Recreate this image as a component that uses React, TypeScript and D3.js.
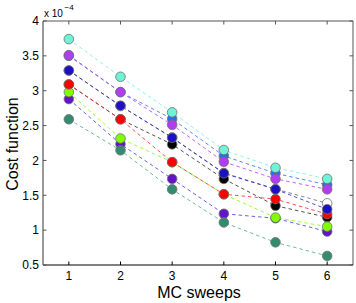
import React from 'react';
import * as d3 from 'd3';

const sweeps = [1, 2, 3, 4, 5, 6];
const yTicks = [0.5, 1, 1.5, 2, 2.5, 3, 3.5, 4];

// values in units of 1e-4, drawn bottom to top
const whiteSeries = [3.29, 2.78, 2.33, 1.82, 1.59, 1.385];
const blackSeries = [3.09, 2.59, 2.23, 1.735, 1.35, 1.185];
const blueSeries = [3.5, 2.98, 2.595, 2.065, 1.815, 1.65];
const indigoSeries = [2.88, 2.235, 1.735, 1.235, 1.17, 0.98];
const tealSeries = [2.59, 2.145, 1.585, 1.11, 0.825, 0.63];
const greenSeries = [2.98, 2.315, 1.975, 1.515, 1.18, 1.05];
const redSeries = [3.09, 2.59, 1.975, 1.515, 1.445, 1.23];
const darkBlueSeries = [3.29, 2.785, 2.325, 1.815, 1.585, 1.3];
const violetSeries = [3.51, 2.98, 2.51, 1.98, 1.735, 1.585];
const turquoiseSeries = [3.74, 3.2, 2.69, 2.15, 1.895, 1.735];

const series = [
  { values: whiteSeries, fill: '#ffffff', line: '#666666' },
  { values: blackSeries, fill: '#000000', line: '#222222' },
  { values: blueSeries, fill: '#2e6bf0', line: '#2e6bf0' },
  { values: indigoSeries, fill: '#6414c8', line: '#3a3ae0' },
  { values: tealSeries, fill: '#338c70', line: '#4aa88a' },
  { values: greenSeries, fill: '#7fff00', line: '#7fff00' },
  { values: redSeries, fill: '#ff0000', line: '#ff2020' },
  { values: darkBlueSeries, fill: '#1c0fc4', line: '#2020c0' },
  { values: violetSeries, fill: '#b23cf0', line: '#b23cf0' },
  { values: turquoiseSeries, fill: '#6ff2d6', line: '#6ff2d6' },
];

const W = 356;
const H = 303;
const m = { left: 43, right: 353, top: 21, bottom: 265 };
const font = '"Liberation Sans", Arial, Helvetica, sans-serif';

export default function App() {
  const x = d3.scaleLinear().domain([0.5, 6.5]).range([m.left, m.right]);
  const y = d3.scaleLinear().domain([0.5, 4]).range([m.bottom, m.top]);
  const line = d3.line<number>()
    .x((_, i) => x(sweeps[i]))
    .y(d => y(d));
  const tl = 3.5;

  return (
    <div style={{ position: 'fixed', left: 0, top: 0 }}>
      <svg width={W} height={H} style={{ display: 'block', background: '#fff' }}>
        {/* series */}
        {series.map((s, k) => (
          <g key={k}>
            <path d={line(s.values) || ''} fill="none" stroke={s.line}
              strokeWidth={0.8} strokeDasharray="3.5,3" />
            {s.values.map((v, i) => (
              <circle key={i} cx={x(sweeps[i])} cy={y(v)} r={4.8}
                fill={s.fill} stroke="#707070" strokeWidth={0.8} />
            ))}
          </g>
        ))}

        {/* box */}
        <line x1={m.left} x2={m.right} y1={m.top} y2={m.top} stroke="#555" strokeWidth={1} />
        <line x1={m.right} x2={m.right} y1={m.top} y2={m.bottom} stroke="#555" strokeWidth={1} />
        <line x1={m.left} x2={m.right} y1={m.bottom} y2={m.bottom} stroke="#000" strokeWidth={1} />
        <line x1={m.left} x2={m.left} y1={m.top} y2={m.bottom} stroke="#777" strokeWidth={1.5} />

        {/* x ticks */}
        {sweeps.map(t => (
          <g key={t}>
            <line x1={x(t)} x2={x(t)} y1={m.bottom} y2={m.bottom - tl} stroke="#000" />
            <line x1={x(t)} x2={x(t)} y1={m.top} y2={m.top + tl} stroke="#555" />
            <text x={x(t)} y={280} textAnchor="middle" fontFamily={font} fontSize={12}>{t}</text>
          </g>
        ))}

        {/* y ticks */}
        {yTicks.map(t => (
          <g key={t}>
            <line x1={m.left} x2={m.left + tl} y1={y(t)} y2={y(t)} stroke="#555" />
            <line x1={m.right} x2={m.right - tl} y1={y(t)} y2={y(t)} stroke="#555" />
            <text x={39} y={y(t)} dy="0.36em" textAnchor="end" fontFamily={font} fontSize={12}>{String(t)}</text>
          </g>
        ))}

        {/* exponent */}
        <text x={44} y={17} fontFamily={font} fontSize={10}>x 10</text>
        <text x={64.5} y={10} fontFamily={font} fontSize={8}>−4</text>

        {/* axis labels */}
        <text x={199} y={298} textAnchor="middle" fontFamily={font} fontSize={16}>MC sweeps</text>
        <text transform="translate(18,144) rotate(-90)" textAnchor="middle" fontFamily={font} fontSize={16}>Cost function</text>
      </svg>
    </div>
  );
}
